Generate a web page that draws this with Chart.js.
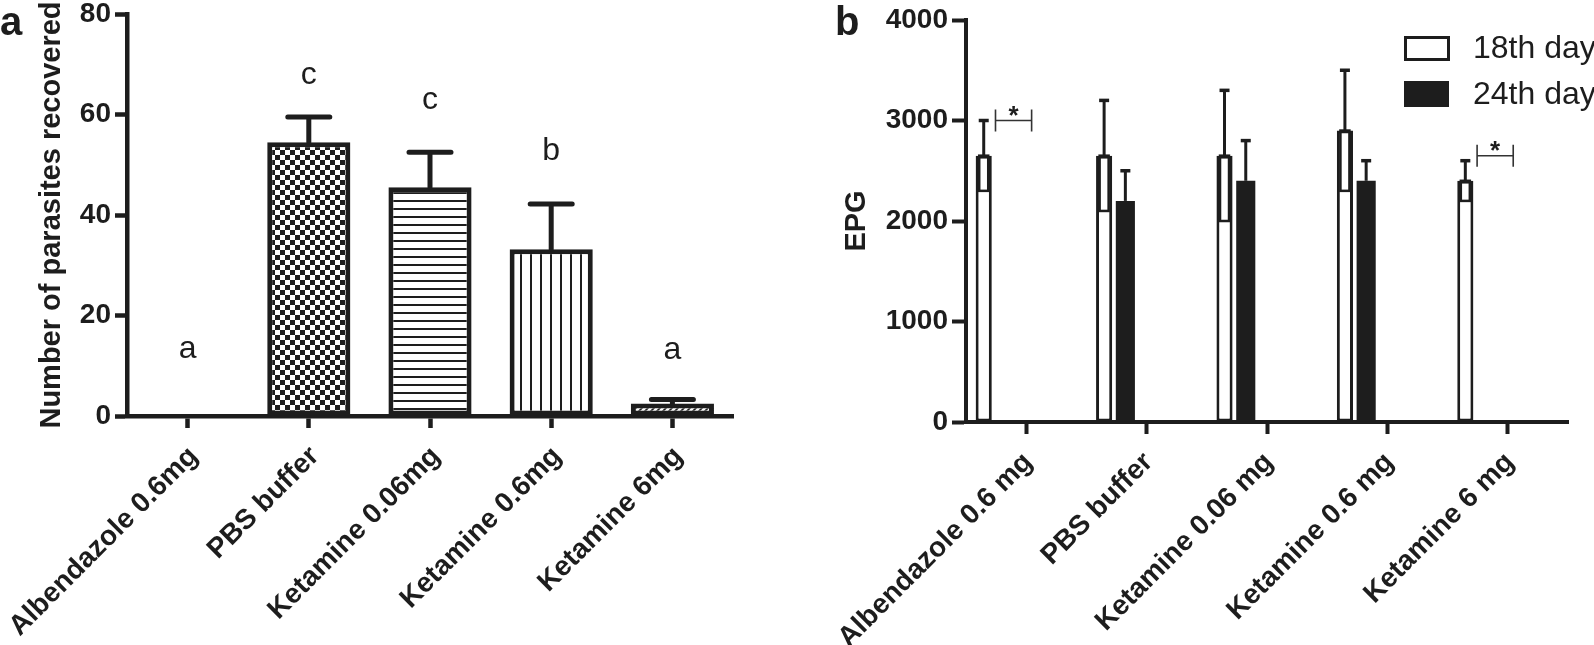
<!DOCTYPE html>
<html>
<head>
<meta charset="utf-8">
<script src="https://cdn.jsdelivr.net/npm/chart.js@4.4.1/dist/chart.umd.min.js"></script>
<style>
  html, body { margin: 0; padding: 0; background: #fff; }
  body { width: 1594px; height: 645px; position: relative; overflow: hidden; }
  canvas { position: absolute; top: 0; }
  #panelA { left: 0; }
  #panelB { left: 790px; }
</style>
</head>
<body>
<canvas id="panelA" width="790" height="645"></canvas>
<canvas id="panelB" width="804" height="645"></canvas>
<script>
const ink = '#1d1d1d';
const family = '"Liberation Sans", Arial, Helvetica, sans-serif';

// panel a: parasites recovered
const groupsA = ['Albendazole 0.6mg', 'PBS buffer', 'Ketamine 0.06mg', 'Ketamine 0.6mg', 'Ketamine 6mg'];
const parasites = [0, 54.5, 45.5, 33.2, 2.5];
const parasitesSd = [0, 5, 7, 9, 0.8];
const letters = ['a', 'c', 'c', 'b', 'a'];
const letterY = [11.5, 66, 61, 51, 11.3];

// panel b: EPG on day 18 / day 24
const groupsB = ['Albendazole 0.6 mg', 'PBS buffer', 'Ketamine 0.06 mg', 'Ketamine 0.6 mg', 'Ketamine 6 mg'];
const day18 = [2650, 2650, 2650, 2900, 2400];
const day18Sd = [350, 550, 650, 600, 200];
const day24 = [0, 2200, 2400, 2400, 0];
const day24Sd = [0, 300, 400, 200, 0];
const sigGroups = [0, 4];
const sigLevels = [3000, 2650];
const spareSlots = 3; // prism left room for more groups in each cluster

function tile(w, h, draw) {
    const c = document.createElement('canvas');
    c.width = w;
    c.height = h;
    const g = c.getContext('2d');
    g.fillStyle = '#fff';
    g.fillRect(0, 0, w, h);
    g.fillStyle = ink;
    g.strokeStyle = ink;
    draw(g);
    return g.createPattern(c, 'repeat');
}

const fillsA = [
    '#fff',
    tile(10, 10, (g) => { g.fillRect(0, 0, 5, 5); g.fillRect(5, 5, 5, 5); }),
    tile(8, 8, (g) => g.fillRect(0, 0, 8, 2)),
    tile(10, 10, (g) => g.fillRect(0, 0, 2, 10)),
    tile(6, 6, (g) => {
        g.lineWidth = 1.6;
        g.beginPath();
        g.moveTo(0, 6); g.lineTo(6, 0);
        g.moveTo(-1, 1); g.lineTo(1, -1);
        g.moveTo(5, 7); g.lineTo(7, 5);
        g.stroke();
    }),
];

const axisStyle = (tickLength, width) => ({
    grid: { drawOnChartArea: false, offset: false, tickLength, tickWidth: width, tickColor: ink },
    border: { color: ink, width },
});

const extrasA = {
    id: 'extrasA',
    afterDatasetsDraw(chart) {
        const { ctx, scales: { x, y } } = chart;
        ctx.save();
        ctx.strokeStyle = ink;
        ctx.lineWidth = 5;
        ctx.lineCap = 'round';
        chart.getDatasetMeta(0).data.forEach((bar, i) => {
            if (!parasitesSd[i]) return;
            const top = y.getPixelForValue(parasites[i] + parasitesSd[i]);
            ctx.beginPath();
            ctx.moveTo(bar.x, bar.y);
            ctx.lineTo(bar.x, top);
            ctx.moveTo(bar.x - 21, top);
            ctx.lineTo(bar.x + 21, top);
            ctx.stroke();
        });
        ctx.fillStyle = ink;
        ctx.font = `32px ${family}`;
        ctx.textAlign = 'center';
        ctx.textBaseline = 'alphabetic';
        letters.forEach((t, i) => ctx.fillText(t, x.getPixelForValue(i), y.getPixelForValue(letterY[i])));
        ctx.font = `bold 40px ${family}`;
        ctx.textAlign = 'left';
        ctx.fillText('a', 0, 35);
        ctx.restore();
    },
};

const extrasB = {
    id: 'extrasB',
    afterDatasetsDraw(chart) {
        const { ctx, scales: { x, y } } = chart;
        ctx.save();
        ctx.strokeStyle = ink;
        [[day18, day18Sd, 0], [day24, day24Sd, 1]].forEach(([vals, sds, di]) => {
            chart.getDatasetMeta(di).data.forEach((bar, i) => {
                if (!sds[i]) return;
                const top = y.getPixelForValue(vals[i] + sds[i]);
                ctx.lineWidth = 3;
                ctx.beginPath();
                ctx.moveTo(bar.x, bar.y);
                ctx.lineTo(bar.x, top);
                ctx.stroke();
                ctx.lineWidth = 3.5;
                ctx.beginPath();
                ctx.moveTo(bar.x - 5, top);
                ctx.lineTo(bar.x + 5, top);
                ctx.stroke();
                if (di === 0) {
                    const low = y.getPixelForValue(vals[i] - sds[i]);
                    ctx.lineWidth = 2.5;
                    ctx.strokeRect(bar.x - 4.5, bar.y, 9, low - bar.y);
                }
            });
        });

        // significance brackets
        const step = x.getPixelForValue(1) - x.getPixelForValue(0);
        ctx.strokeStyle = '#333';
        ctx.lineWidth = 1.6;
        ctx.fillStyle = ink;
        ctx.font = `bold 26px ${family}`;
        ctx.textAlign = 'center';
        ctx.textBaseline = 'alphabetic';
        sigGroups.forEach((g, k) => {
            const cx = x.getPixelForValue(g);
            const x0 = cx - 0.255 * step;
            const x1 = cx + 0.045 * step;
            const yb = y.getPixelForValue(sigLevels[k]);
            ctx.beginPath();
            ctx.moveTo(x0, yb); ctx.lineTo(x1, yb);
            ctx.moveTo(x0, yb - 11); ctx.lineTo(x0, yb + 11);
            ctx.moveTo(x1, yb - 11); ctx.lineTo(x1, yb + 11);
            ctx.stroke();
            ctx.fillText('*', (x0 + x1) / 2, yb + 3);
        });

        // legend
        const [s18, s24] = chart.data.datasets;
        ctx.strokeStyle = ink;
        ctx.lineWidth = 3;
        ctx.fillStyle = '#fff';
        ctx.fillRect(615, 37, 43, 22);
        ctx.strokeRect(615.5, 37.5, 43, 22);
        ctx.fillStyle = ink;
        ctx.fillRect(614, 81, 45, 26);
        ctx.font = `32px ${family}`;
        ctx.textAlign = 'left';
        ctx.textBaseline = 'middle';
        ctx.fillText(s18.label, 683, 49);
        ctx.fillText(s24.label, 683, 95);

        ctx.font = `bold 40px ${family}`;
        ctx.textBaseline = 'alphabetic';
        ctx.fillText('b', 45, 35);
        ctx.restore();
    },
};

const tickFont = { family, size: 28, weight: 'bold', lineHeight: 1 };
const plain = (v) => String(v);

new Chart(document.getElementById('panelA'), {
    type: 'bar',
    data: {
        labels: groupsA,
        datasets: [{
            data: parasites,
            backgroundColor: fillsA,
            borderColor: ink,
            borderWidth: 5,
            borderSkipped: false,
            barPercentage: 0.686,
            categoryPercentage: 1,
        }],
    },
    options: {
        responsive: false,
        animation: false,
        events: [],
        layout: { padding: { top: 14, right: 57, bottom: 0, left: 0 } },
        plugins: { legend: { display: false }, tooltip: { enabled: false } },
        scales: {
            x: {
                ...axisStyle(12, 4.5),
                ticks: { color: ink, font: tickFont, minRotation: 45, maxRotation: 45, autoSkip: false, padding: 14, labelOffset: 6 },
                afterFit: (s) => { s.height = 229; s.paddingLeft = 0; s.paddingRight = 0; },
            },
            y: {
                ...axisStyle(12, 4.5),
                min: 0,
                max: 80,
                ticks: { stepSize: 20, color: ink, font: tickFont, padding: 4, callback: plain },
                title: {
                    display: true,
                    text: 'Number of parasites recovered',
                    color: ink,
                    font: { family, size: 29, weight: 'bold' },
                    padding: { top: 35, bottom: 0 },
                },
                afterFit: (s) => { s.width = 127; s.paddingTop = 0; s.paddingBottom = 0; },
            },
        },
    },
    plugins: [extrasA],
});

const spare = Array.from({ length: spareSlots }, () => ({ label: '', data: [] }));

new Chart(document.getElementById('panelB'), {
    type: 'bar',
    data: {
        labels: groupsB,
        datasets: [
            { label: '18th day', data: day18, backgroundColor: '#fff', borderColor: ink, borderWidth: 3, borderSkipped: false, barPercentage: 0.76 },
            { label: '24th day', data: day24, backgroundColor: ink, borderColor: ink, borderWidth: 0, barPercentage: 0.9 },
            ...spare,
        ],
    },
    options: {
        responsive: false,
        animation: false,
        events: [],
        datasets: { bar: { categoryPercentage: 0.882 } },
        layout: { padding: { top: 20, right: 26, bottom: 0, left: 0 } },
        plugins: { legend: { display: false }, tooltip: { enabled: false } },
        scales: {
            x: {
                ...axisStyle(12, 4),
                ticks: { color: ink, font: tickFont, minRotation: 45, maxRotation: 45, autoSkip: false, padding: 14, labelOffset: 2 },
                afterFit: (s) => { s.height = 223; s.paddingLeft = 0; s.paddingRight = 0; },
            },
            y: {
                ...axisStyle(14, 4),
                min: 0,
                max: 4000,
                ticks: { stepSize: 1000, color: ink, font: tickFont, padding: 4, callback: plain },
                title: {
                    display: true,
                    text: 'EPG',
                    color: ink,
                    font: { family, size: 29, weight: 'bold' },
                    padding: { top: 50, bottom: 0 },
                },
                afterFit: (s) => { s.width = 176; s.paddingTop = 0; s.paddingBottom = 0; },
            },
        },
    },
    plugins: [extrasB],
});
</script>
</body>
</html>
